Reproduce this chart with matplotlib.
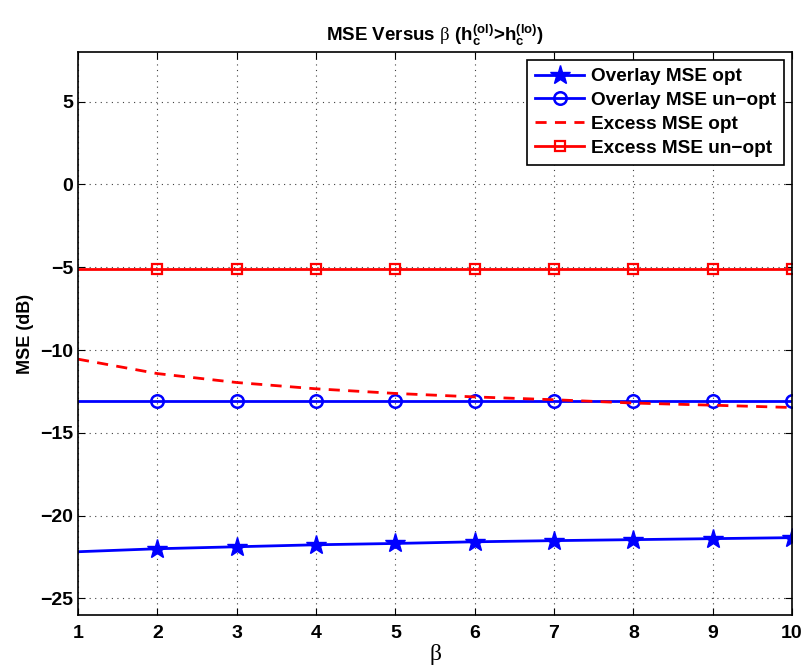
import numpy as np
import matplotlib
matplotlib.use("Agg")
import matplotlib.pyplot as plt

plt.rcParams['font.family'] = ['Liberation Sans', 'DejaVu Sans']
plt.rcParams['font.weight'] = 'bold'
plt.rcParams['mathtext.fontset'] = 'custom'
plt.rcParams['mathtext.rm'] = 'Liberation Sans:bold'
plt.rcParams['mathtext.bf'] = 'Liberation Sans:bold'
plt.rcParams['mathtext.it'] = 'Liberation Sans:bold'
plt.rcParams['mathtext.sf'] = 'Liberation Serif:normal'

# beta sweep and MSE values (dB)
beta = [1, 2, 3, 4, 5, 6, 7, 8, 9, 10]
overlay_opt = [-22.18, -22.0, -21.88, -21.76, -21.68, -21.58, -21.51, -21.45, -21.39, -21.33]
overlay_unopt = [-13.08] * 10
excess_opt = [-10.55, -11.42, -11.96, -12.34, -12.62, -12.83, -13.0, -13.2, -13.33, -13.47]
excess_unopt = [-5.12] * 10

fig = plt.figure(figsize=(8.05, 6.66), dpi=100)
ax = fig.add_axes([0.0969, 0.0766, 0.887, 0.8453])

marks = slice(1, None)
ax.plot(beta, overlay_opt, color=(0, 0, 1), lw=2, marker='*', ms=15,
        markevery=marks, label='Overlay MSE opt')
ax.plot(beta, overlay_unopt, color=(0, 0, 1), lw=2, marker='o', ms=9,
        mfc='none', mew=1.8, markevery=marks, label='Overlay MSE un\u2212opt')
ax.plot(beta, excess_opt, color=(1, 0, 0), lw=2, ls=(0, (4, 3)),
        label='Excess MSE opt')
ax.plot(beta, excess_unopt, color=(1, 0, 0), lw=2, marker='s', ms=7,
        mfc='none', mew=1.6, markevery=marks, label='Excess MSE un\u2212opt')

ax.set_xlim(1, 10)
ax.set_ylim(-26, 8)
ax.set_xticks(range(1, 11))
ax.set_yticks([-25, -20, -15, -10, -5, 0, 5])
ax.set_yticklabels(['\u221225', '\u221220', '\u221215', '\u221210', '\u22125', '0', '5'])
ax.tick_params(direction='in', top=True, right=True, labelsize=14, length=5, width=0.8)
ax.tick_params(axis='x', pad=7)
for lab in ax.get_xticklabels() + ax.get_yticklabels():
    lab.set_fontweight('bold')
for sp in ax.spines.values():
    sp.set_linewidth(1.2)

ax.grid(True, color='0.25', ls=(0, (1, 4)), lw=0.8)

ax.set_xlabel(r'$\mathsf{\beta}$', fontsize=17, labelpad=0)
ax.set_ylabel('MSE (dB)', fontsize=13, fontweight='bold', labelpad=4)
ax.set_title(r'MSE Versus $\mathsf{\beta}$ ($\mathbf{h_c^{(ol)}}$>$\mathbf{h_c^{(lo)}}$)',
             fontsize=13.5, fontweight='bold', pad=8)

leg = ax.legend(loc='upper right', prop={'weight': 'bold', 'size': 13.7},
                fancybox=False, edgecolor='black', framealpha=1,
                handlelength=2.6, handletextpad=0.35, labelspacing=0.34,
                borderaxespad=0.42, borderpad=0.42)
leg.get_frame().set_linewidth(1.2)

fig.savefig('out.png', dpi=100)
